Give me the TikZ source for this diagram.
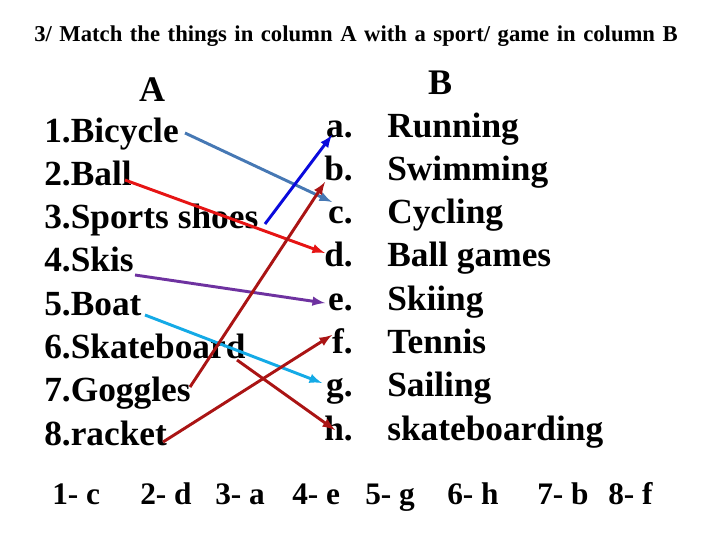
\documentclass[tikz,border=0pt]{standalone}
\usepackage{fontspec}
\setmainfont{Liberation Serif}
\begin{document}
\begin{tikzpicture}[x=0.75pt,y=-0.75pt,
  item/.style={anchor=base west,inner sep=0,font=\fontsize{26.5}{28}\selectfont\bfseries},
  let/.style={anchor=base east,inner sep=0,font=\fontsize{26.5}{28}\selectfont\bfseries},
  hd/.style={anchor=base,inner sep=0,font=\fontsize{27}{29}\selectfont\bfseries},
  ans/.style={anchor=base west,inner sep=0,font=\fontsize{23.5}{25}\selectfont\bfseries},
  arr/.style={-latex,line width=2.2pt}]
\useasboundingbox (0,0) rectangle (720,540);
\node[anchor=north west,inner sep=0,align=left,text width=490pt,font=\fontsize{17}{14}\selectfont\bfseries] (t) at (34,26) {3/ Match the things in column A with a sport/ game in column B};
\node[hd] (A) at (152,101) {A};
\node[hd] (B) at (440,94) {B};
\foreach \t [count=\i] in {1.Bicycle,2.Ball,3.Sports shoes,4.Skis,5.Boat,6.Skateboard,7.Goggles,8.racket}
  \node[item] (i\i) at (44,{142+43.3*(\i-1)}) {\t};
\foreach \l/\t [count=\i] in {a/Running,b/Swimming,c/Cycling,d/Ball games,e/Skiing,f/Tennis,g/Sailing,h/skateboarding}{
  \node[let] (l\l) at (353,{137+43.3*(\i-1)}) {\l.};
  \node[item] (r\l) at (387,{137+43.3*(\i-1)}) {\t};}
\coordinate (s1) at (185,133); \coordinate (e1) at (332,202);
\coordinate (s2) at (125,180); \coordinate (e2) at (325,253);
\coordinate (s3) at (265,224); \coordinate (e3) at (332,135);
\coordinate (s4) at (135,275); \coordinate (e4) at (325,303);
\coordinate (s5) at (145,315); \coordinate (e5) at (322,383);
\coordinate (s6) at (237,360); \coordinate (e6) at (335,430);
\coordinate (s7) at (190,387); \coordinate (e7) at (325,182);
\coordinate (s8) at (163,442); \coordinate (e8) at (332,335);
\draw[arr,color={rgb,255:red,70;green,120;blue,180}] (s1) -- (e1);
\draw[arr,color={rgb,255:red,230;green,20;blue,20}] (s2) -- (e2);
\draw[arr,color={rgb,255:red,10;green,10;blue,220}] (s3) -- (e3);
\draw[arr,color={rgb,255:red,110;green,50;blue,160}] (s4) -- (e4);
\draw[arr,color={rgb,255:red,20;green,170;blue,230}] (s5) -- (e5);
\draw[arr,color={rgb,255:red,170;green,20;blue,20}] (s6) -- (e6);
\draw[arr,color={rgb,255:red,170;green,20;blue,20}] (s7) -- (e7);
\draw[arr,color={rgb,255:red,170;green,20;blue,20}] (s8) -- (e8);
\foreach \t/\x [count=\i] in {1- c/52,2- d/140,3- a/215,4- e/292,5- g/365,6- h/447,7- b/537,8- f/608}
  \node[ans] (n\i) at (\x,504) {\t};
\end{tikzpicture}
\end{document}
